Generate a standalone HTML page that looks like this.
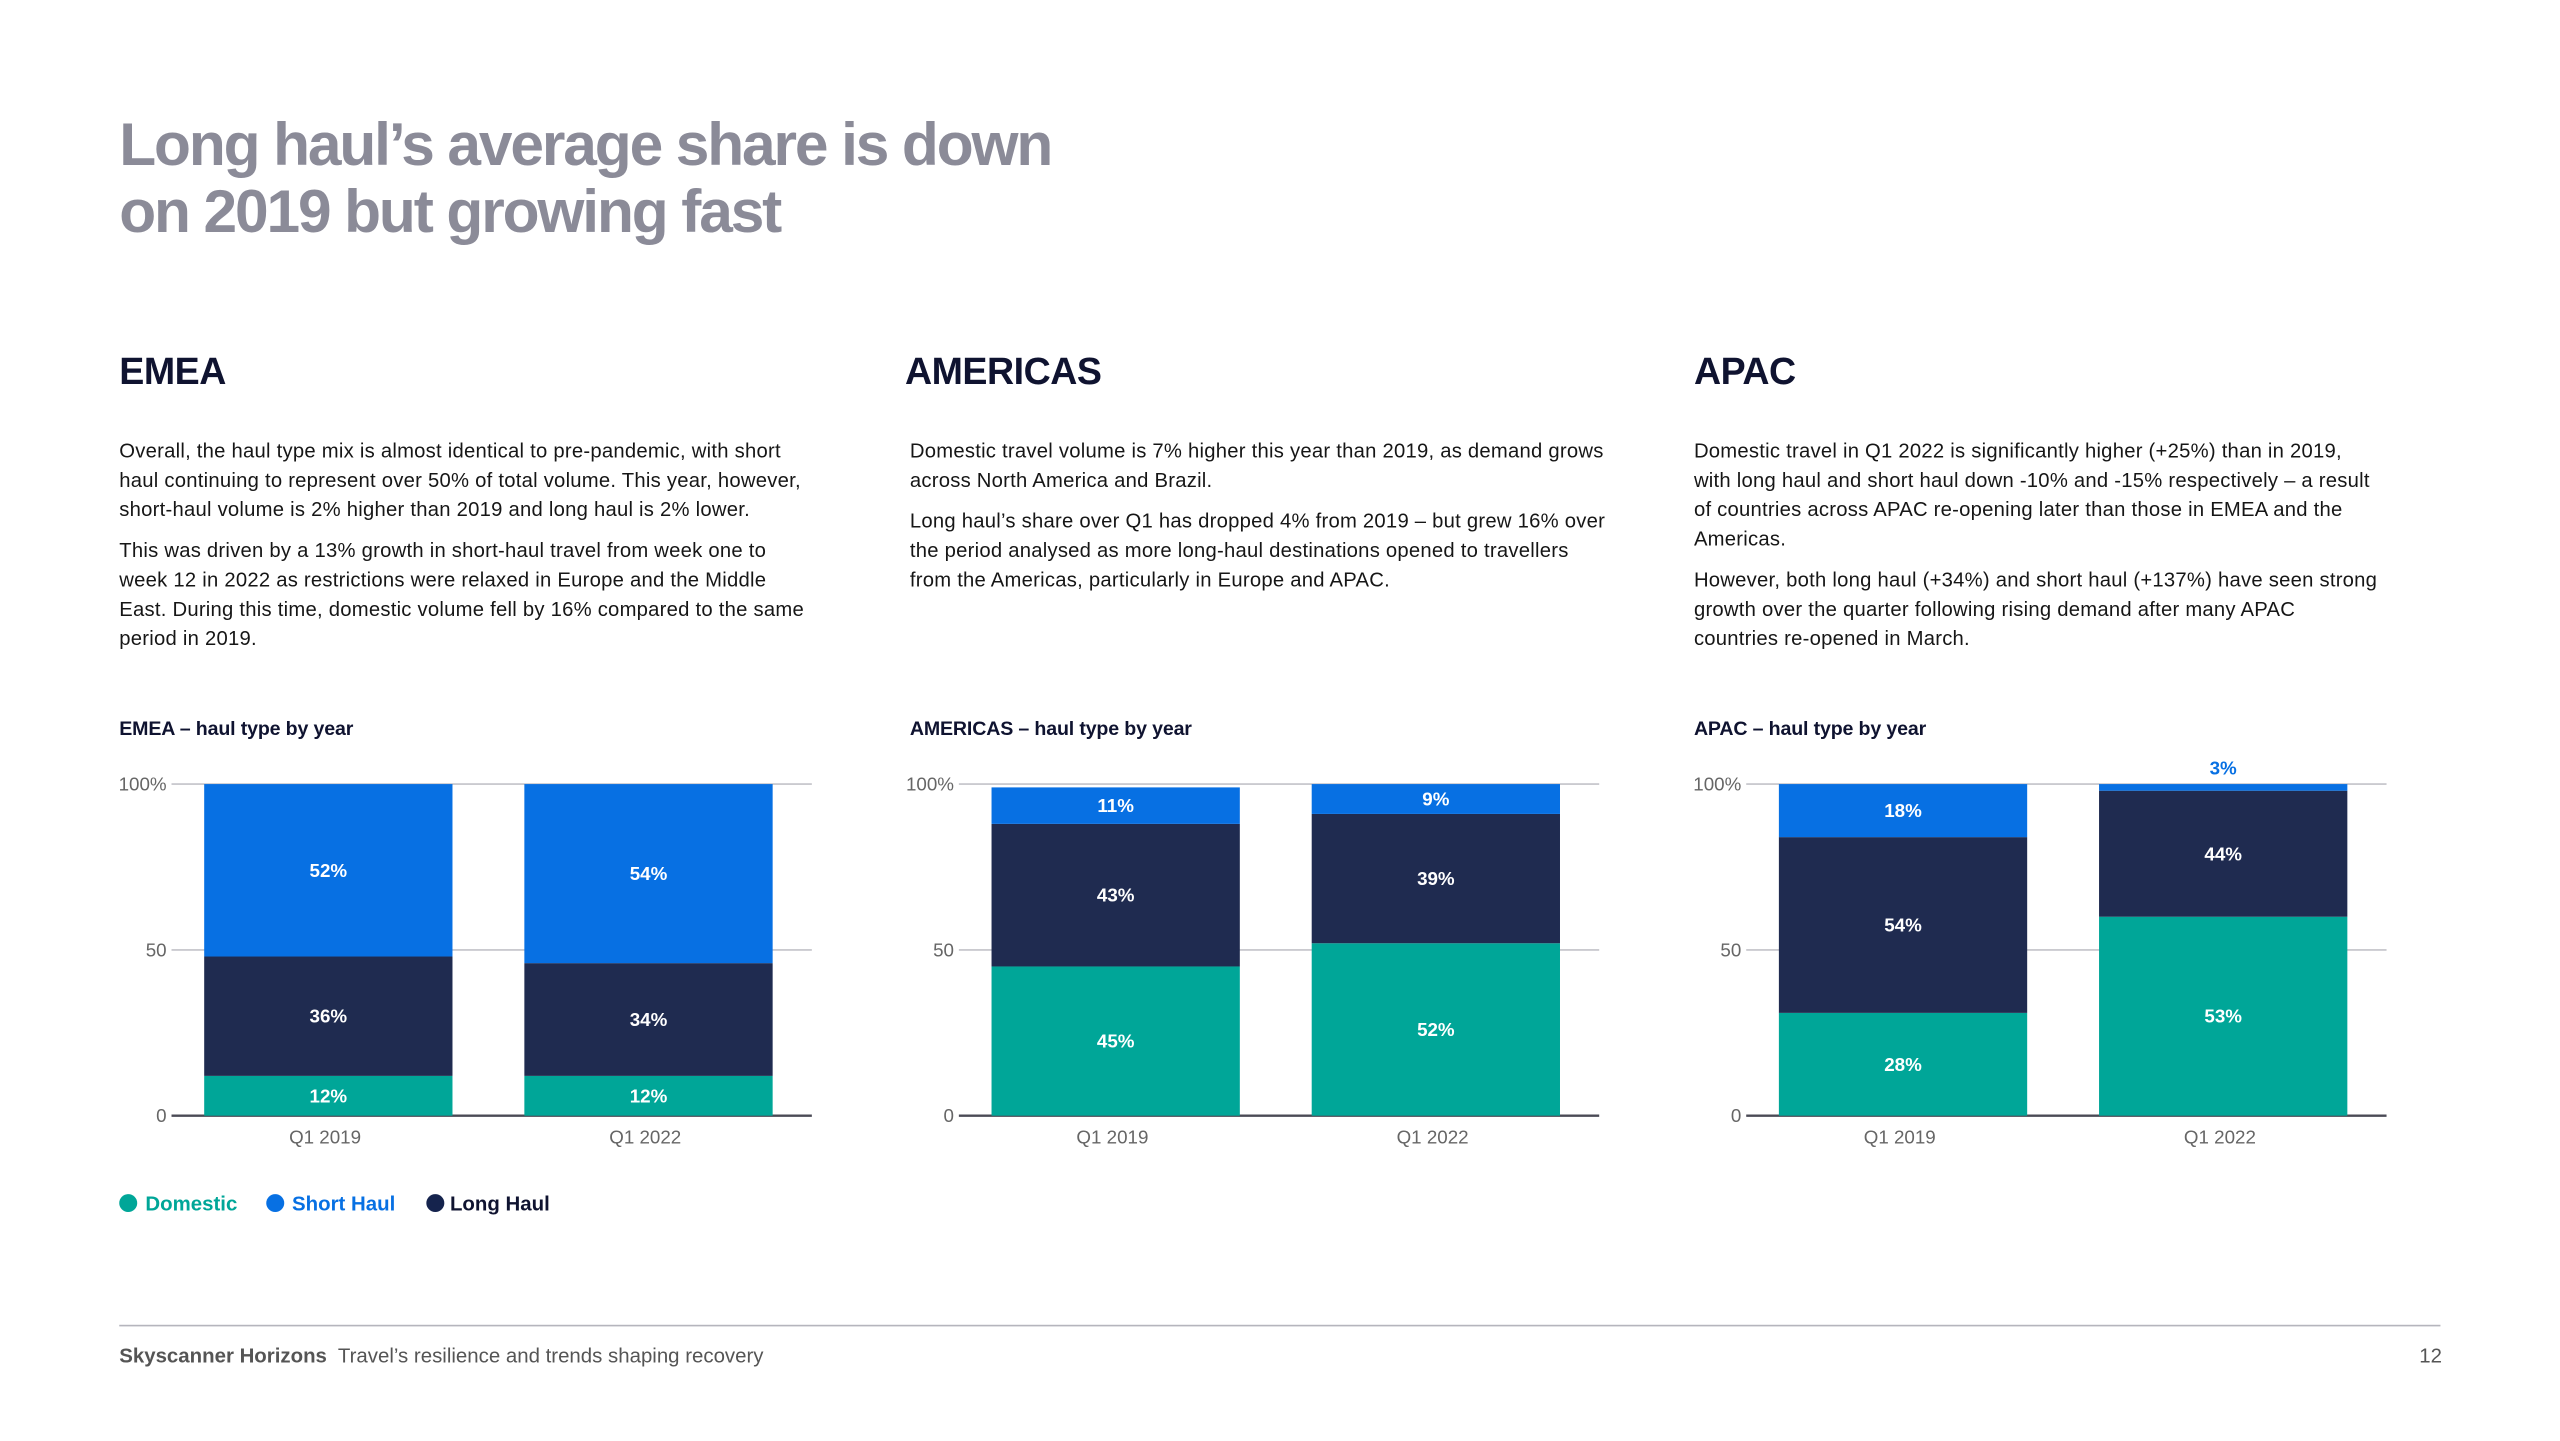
<!DOCTYPE html>
<html><head><meta charset="utf-8">
<style>
html,body{margin:0;padding:0;background:#fff;width:2560px;height:1440px;overflow:hidden}
#page{position:absolute;left:0;top:0;width:1570px;height:882px;transform:scale(1.6335);transform-origin:0 0;font-family:"Liberation Sans",sans-serif;color:#161616}
.abs{position:absolute;white-space:nowrap}
.title{left:73px;top:68px;font-size:37px;font-weight:bold;color:#8b8b98;line-height:41px;letter-spacing:-1.3px}
.h2{font-size:23px;font-weight:bold;color:#0f1330;top:214px;letter-spacing:-0.3px}
.body{font-size:12.4px;line-height:18px;color:#161616;letter-spacing:0.15px}
.body p{margin:0 0 7px 0}
.ct{font-size:12px;font-weight:bold;color:#0f1330;top:439px;letter-spacing:-0.1px}
svg text{font-family:"Liberation Sans",sans-serif}
</style></head><body>
<div id="page">
<div class="abs title">Long haul’s average share is down<br>on 2019 but growing fast</div>

<div class="abs h2" style="left:73px">EMEA</div>
<div class="abs h2" style="left:554px">AMERICAS</div>
<div class="abs h2" style="left:1037px">APAC</div>

<div class="abs body" style="left:73px;top:267px">
<p>Overall, the haul type mix is almost identical to pre-pandemic, with short<br>haul continuing to represent over 50% of total volume. This year, however,<br>short-haul volume is 2% higher than 2019 and long haul is 2% lower.</p>
<p>This was driven by a 13% growth in short-haul travel from week one to<br>week 12 in 2022 as restrictions were relaxed in Europe and the Middle<br>East. During this time, domestic volume fell by 16% compared to the same<br>period in 2019.</p></div>
<div class="abs body" style="left:557px;top:267px">
<p>Domestic travel volume is 7% higher this year than 2019, as demand grows<br>across North America and Brazil.</p>
<p>Long haul’s share over Q1 has dropped 4% from 2019 – but grew 16% over<br>the period analysed as more long-haul destinations opened to travellers<br>from the Americas, particularly in Europe and APAC.</p></div>
<div class="abs body" style="left:1037px;top:267px">
<p>Domestic travel in Q1 2022 is significantly higher (+25%) than in 2019,<br>with long haul and short haul down -10% and -15% respectively – a result<br>of countries across APAC re-opening later than those in EMEA and the<br>Americas.</p>
<p>However, both long haul (+34%) and short haul (+137%) have seen strong<br>growth over the quarter following rising demand after many APAC<br>countries re-opened in March.</p></div>

<div class="abs ct" style="left:73px">EMEA – haul type by year</div>
<div class="abs ct" style="left:557px">AMERICAS – haul type by year</div>
<div class="abs ct" style="left:1037px">APAC – haul type by year</div>

<svg id="charts" class="abs" style="left:0;top:0" width="1570" height="882"></svg>

<div class="abs" style="left:73px;top:730px;font-size:12.5px;font-weight:bold;line-height:15px">
<span style="color:#00a698"><span style="display:inline-block;width:11px;height:11px;border-radius:50%;background:#00a698;vertical-align:-1px;margin-right:5px"></span>Domestic</span>
<span style="color:#0770e3;margin-left:14px"><span style="display:inline-block;width:11px;height:11px;border-radius:50%;background:#0770e3;vertical-align:-1px;margin-right:5px"></span>Short Haul</span>
<span style="color:#0f1330;margin-left:16px"><span style="display:inline-block;width:11px;height:11px;border-radius:50%;background:#15234d;vertical-align:-1px;margin-right:3px"></span>Long Haul</span>
</div>

<div class="abs" style="left:73px;top:811px;width:1421px;height:1px;background:#b5b5bd"></div>
<div class="abs" style="left:73px;top:823px;font-size:12.5px;color:#555"><b style="color:#555">Skyscanner Horizons</b>&nbsp; Travel’s resilience and trends shaping recovery</div>
<div class="abs" style="left:1481px;top:823px;font-size:12.5px;color:#555">12</div>
</div>

<script>
const categories = ["Q1 2019", "Q1 2022"];
const regions = ["emea", "americas", "apac"];
const yTicks = [0, 50, 100];
const yTickLabels = ["0", "50", "100%"];
// bar segment heights (percent)
const emeaDomestic = [12, 12];
const emeaLong = [36, 34];
const emeaShort = [52, 54];
const americasDomestic = [45, 52];
const americasLong = [43, 39];
const americasShort = [11, 9];
const apacDomestic = [31, 60];
const apacLong = [53, 38];
const apacShort = [16, 2];
// printed labels
const emeaLabels = [["12%","36%","52%"],["12%","34%","54%"]];
const americasLabels = [["45%","43%","11%"],["52%","39%","9%"]];
const apacLabels = [["28%","54%","18%"],["53%","44%","3%"]];

const seriesData = {
  emea: [emeaDomestic, emeaLong, emeaShort],
  americas: [americasDomestic, americasLong, americasShort],
  apac: [apacDomestic, apacLong, apacShort]
};
const labelData = {emea: emeaLabels, americas: americasLabels, apac: apacLabels};
const seriesNames = ["domestic", "long-haul", "short-haul"];
const colors = ["#00a698", "#1f2b50", "#0770e3"];
const axisLeft = {emea: 105, americas: 587, apac: 1069};
const plotW = 392, y0 = 683, plotH = 203, barW = 152;

const svg = document.getElementById('charts');
const NS = "http://www.w3.org/2000/svg";
function mk(tag, attrs, parent){const e=document.createElementNS(NS,tag);for(const k in attrs)e.setAttribute(k,attrs[k]);parent.appendChild(e);return e;}
function yScale(v){return y0 - v/100*plotH;}

regions.forEach(function(r){
  const L = axisLeft[r];
  const g = mk('g',{},svg);
  
  
  function xCenter(i){return L + plotW*(0.25 + 0.5*i) - 2;}
  yTicks.forEach(function(t,i){
    const ln = mk('line',{x1:L,x2:L+plotW,y1:yScale(t),y2:yScale(t),stroke:t===0?'#4a4a55':'#c2c2c8','stroke-width':t===0?1.5:1},g);
    
    
    const tx = mk('text',{x:L-3,y:yScale(t)+4,'text-anchor':'end','font-size':11.5,fill:'#666'},g);
    tx.textContent = yTickLabels[i];
    
    
  });
  const ser = seriesData[r];
  categories.forEach(function(c,i){
    let cum = 0;
    const cx = xCenter(i);
    ser.forEach(function(s,k){
      const v = s[i];
      const top = yScale(cum+v), bot = yScale(cum);
      const rc = mk('rect',{x:cx-barW/2,y:top,width:barW,height:bot-top,fill:colors[k]},g);
      
      
      const lab = labelData[r][i][k];
      const small = (bot-top) < 12;
      const ly = small ? top-6 : (top+bot)/2+4;
      const tx = mk('text',{x:cx,y:ly,'text-anchor':'middle','font-size':11.5,'font-weight':'bold',fill:small?colors[k]:'#fff'},g);
      tx.textContent = lab;
      
      
      cum += v;
    });
    const cl = mk('text',{x:cx-2,y:y0+17,'text-anchor':'middle','font-size':11.5,fill:'#666'},g);
    cl.textContent = c;
    
    
  });
});
</script>
</body></html>
